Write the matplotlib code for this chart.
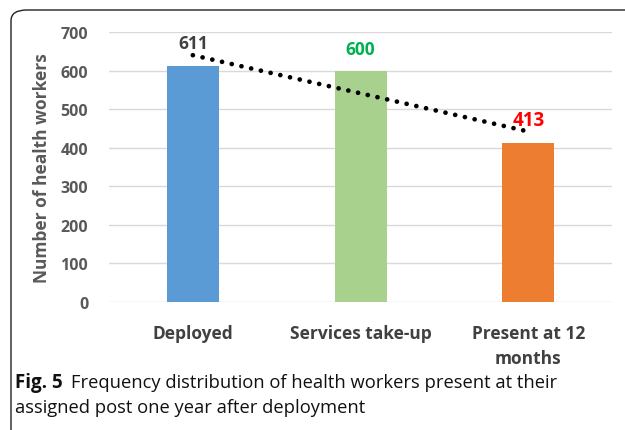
import numpy as np
import matplotlib
matplotlib.use('Agg')
import matplotlib.pyplot as plt
from matplotlib.patches import FancyBboxPatch

# data
categories = ["Deployed", "Services take-up", "Present at 12\nmonths"]
values = [611, 600, 413]
bar_colors = ["#5B9BD5", "#A9D18E", "#ED7D31"]
label_colors = ["#404040", "#00B050", "#FF0000"]
yticks = [0, 100, 200, 300, 400, 500, 600, 700]

plt.rcParams['font.family'] = ['Open Sans', 'DejaVu Sans']
GRAY = "#595959"

fig = plt.figure(figsize=(6.25, 4.31), dpi=100)
ax = fig.add_axes([0.1744, 0.297, 0.805, 0.626])

x = np.arange(len(categories))
ax.bar(x, values, width=0.31, color=bar_colors, zorder=3)

# linear trendline (Excel style), dotted
slope, icpt = np.polyfit(x, values, 1)
xt = np.array([0.0, 1.99])
ax.plot(xt, slope * xt + icpt, linestyle=(0, (0.01, 2.1)), color="black",
        linewidth=3.4, dash_capstyle="round", zorder=4)

# value labels
offsets = [(0, 62), (0, 56), (0.0, 58)]
weights = ["bold", "bold", "bold"]
sizes = [12.5, 12.5, 13.5]
for i, v in enumerate(values):
    dx, dy = offsets[i]
    ax.text(i + dx, v + dy, str(v), ha="center", va="center", fontsize=sizes[i],
            color=label_colors[i], fontweight=weights[i], zorder=5)

ax.set_xlim(-0.5, 2.5)
ax.set_ylim(0, 700)
ax.set_yticks(yticks)
ax.set_xticks(x)
ax.set_xticklabels(categories, fontsize=12.5, fontweight="bold", color="#404040",
                   linespacing=1.45)
for lbl in ax.get_yticklabels():
    lbl.set_fontweight("bold")
    lbl.set_color(GRAY)
    lbl.set_fontsize(11.5)
ax.tick_params(axis="y", length=0, pad=15)
ax.tick_params(axis="x", length=0, pad=16)
ax.grid(axis="y", color="#D9D9D9", linewidth=1, zorder=0)
for s in ax.spines.values():
    s.set_visible(False)
ax.set_ylabel("Number of health workers", fontsize=12.5, fontweight="bold",
              color=GRAY, labelpad=7)

# frame around figure
frame = FancyBboxPatch((11 / 625, -0.2), 1.2, 1.2 - 11 / 431,
                       boxstyle="round,pad=0,rounding_size=0.025",
                       transform=fig.transFigure, fill=False,
                       edgecolor="#222222", linewidth=1.0, clip_on=False)
fig.patches.append(frame)

# caption
fig.text(15 / 625, 1 - 383 / 431, "Fig. 5", fontsize=13.5, fontweight="bold",
         ha="left", va="center", color="#111111")
fig.text(71 / 625, 1 - 383 / 431,
         "Frequency distribution of health workers present at their",
         fontsize=13.2, ha="left", va="center", color="#111111")
fig.text(15 / 625, 1 - 408 / 431,
         "assigned post one year after deployment",
         fontsize=13.2, ha="left", va="center", color="#111111")

fig.savefig("out.png", dpi=100, facecolor="white")
